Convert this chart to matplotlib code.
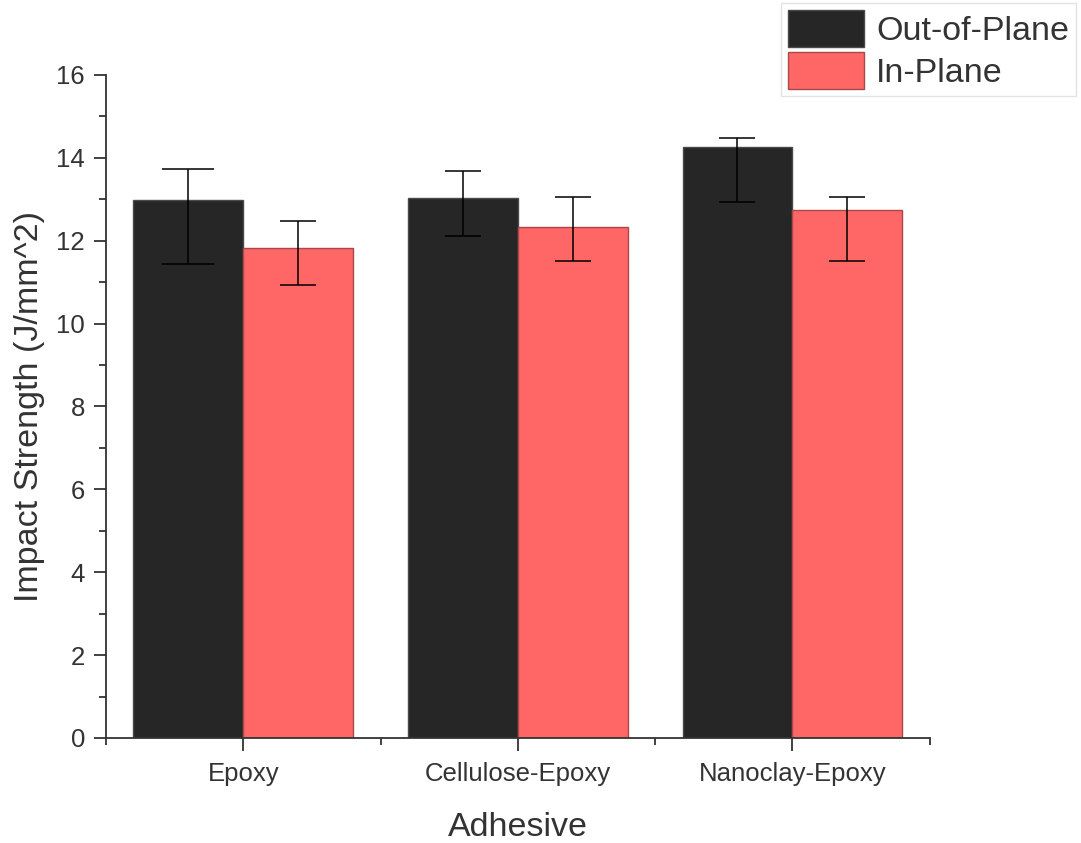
import matplotlib
matplotlib.use("Agg")
import matplotlib.pyplot as plt
from matplotlib.ticker import MultipleLocator, FixedLocator
import numpy as np

plt.rcParams['font.family'] = ['Liberation Sans', 'DejaVu Sans']

categories = ["Epoxy", "Cellulose-Epoxy", "Nanoclay-Epoxy"]
series_names = ["Out-of-Plane", "In-Plane"]

out_of_plane = [12.98, 13.03, 14.27]
out_of_plane_hi = [13.72, 13.67, 14.47]
out_of_plane_lo = [11.43, 12.12, 12.93]

in_plane = [11.83, 12.33, 12.75]
in_plane_hi = [12.47, 13.05, 13.05]
in_plane_lo = [10.92, 11.50, 11.50]

fig = plt.figure(figsize=(10.81, 8.43), dpi=100)
ax = fig.add_axes([0.098, 0.1246, 0.762, 0.7865])

x = np.arange(1, len(categories) + 1)
w = 0.4
colors = ["#262626", "#FF6666"]
edges = ["#4a4a4a", "#a84848"]
text_color = "#333333"

series = [
    (out_of_plane, out_of_plane_lo, out_of_plane_hi, -w / 2, [19, 13, 13]),
    (in_plane, in_plane_lo, in_plane_hi, w / 2, [13, 13, 13]),
]
handles = []
for (vals, lo, hi, off, caps), c, ec, name in zip(series, colors, edges, series_names):
    vals = np.array(vals)
    b = ax.bar(x + off, vals, width=w, color=c, edgecolor=ec, linewidth=1.0,
               label=name, zorder=2)
    handles.append(b)
    for i in range(len(vals)):
        ax.errorbar(x[i] + off, vals[i],
                    yerr=[[vals[i] - lo[i]], [hi[i] - vals[i]]],
                    fmt="none", ecolor="black", elinewidth=1.1,
                    capsize=caps[i], capthick=1.1, zorder=3)

ax.set_xlim(0.5, 3.5)
ax.set_ylim(0, 16)
ax.set_xticks(x)
ax.set_xticklabels(categories)
ax.xaxis.set_minor_locator(FixedLocator([0.5, 1.5, 2.5, 3.5]))
ax.yaxis.set_major_locator(MultipleLocator(2))
ax.yaxis.set_minor_locator(MultipleLocator(1))

for s in ["top", "right"]:
    ax.spines[s].set_visible(False)
for s in ["left", "bottom"]:
    ax.spines[s].set_linewidth(1.3)
    ax.spines[s].set_color(text_color)

ax.tick_params(axis="both", which="major", direction="out", length=9,
               width=1.3, color=text_color, labelsize=18.5, labelcolor=text_color)
ax.tick_params(axis="both", which="minor", direction="out", length=5,
               width=1.3, color=text_color)
ax.tick_params(axis="x", which="major", pad=8)
ax.tick_params(axis="y", which="major", pad=6)

ax.set_xlabel("Adhesive", fontsize=24.5, color=text_color)
ax.set_ylabel("Impact Strength (J/mm^2)", fontsize=24.5, color=text_color)
ax.xaxis.set_label_coords(0.5, -0.111)
ax.xaxis.label.set_va("top")
ax.yaxis.set_label_coords(-0.074, 0.5)

leg = fig.legend(handles=handles, labels=series_names,
                 loc="upper right", bbox_to_anchor=(1076 / 1081, 1 - 3 / 843),
                 fontsize=24.5, frameon=True, fancybox=False,
                 handlelength=2.25, handleheight=1.3, labelspacing=0.15,
                 borderpad=0.2, handletextpad=0.35, borderaxespad=0)
leg.get_frame().set_edgecolor("#dddddd")
leg.get_frame().set_linewidth(1.0)
for t in leg.get_texts():
    t.set_color(text_color)

fig.savefig("out.png", dpi=100)
